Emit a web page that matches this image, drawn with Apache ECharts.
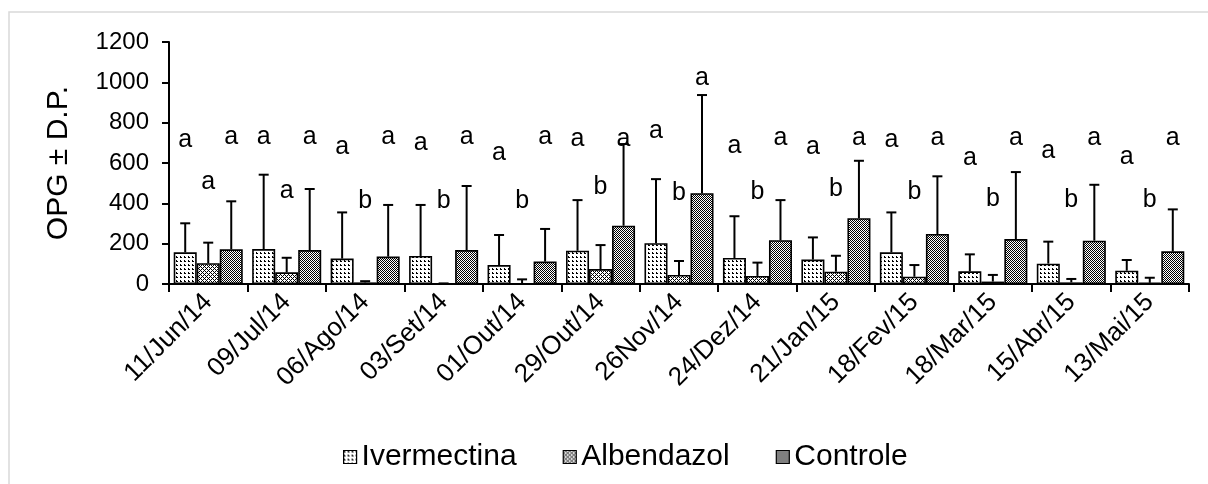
<!DOCTYPE html>
<html>
<head>
<meta charset="utf-8">
<script src="https://cdn.jsdelivr.net/npm/echarts@6/dist/echarts.min.js"></script>
<style>
  html, body { margin: 0; padding: 0; background: #fff; }
  #chart { width: 1208px; height: 484px; }
</style>
</head>
<body>
<div id="chart"></div>
<script>
// Sampling dates
const categories = ['11/Jun/14', '09/Jul/14', '06/Ago/14', '03/Set/14', '01/Out/14', '29/Out/14',
  '26Nov/14', '24/Dez/14', '21/Jan/15', '18/Fev/15', '18/Mar/15', '15/Abr/15', '13/Mai/15'];

// Mean OPG per group
const ivermectinaMean = [157, 173, 126, 139, 94, 165, 202, 129, 121, 157, 63, 101, 66];
const albendazolMean  = [103, 58, 8, 2, 3, 74, 45, 40, 61, 36, 12, 8, 6];
const controleMean    = [172, 168, 136, 168, 111, 289, 450, 217, 326, 248, 223, 215, 162];

// Standard deviation per group
const ivermectinaSD = [144, 369, 229, 253, 149, 251, 318, 207, 110, 198, 84, 109, 53];
const albendazolSD  = [102, 72, 6, 1, 20, 119, 69, 66, 79, 58, 33, 17, 25];
const controleSD    = [238, 303, 256, 318, 162, 405, 487, 199, 285, 286, 332, 277, 208];

// Significance letters and the OPG level at which each is written
const ivermectinaLetters = ['a', 'a', 'a', 'a', 'a', 'a', 'a', 'a', 'a', 'a', 'a', 'a', 'a'];
const albendazolLetters  = ['a', 'a', 'b', 'b', 'b', 'b', 'b', 'b', 'b', 'b', 'b', 'b', 'b'];
const controleLetters    = ['a', 'a', 'a', 'a', 'a', 'a', 'a', 'a', 'a', 'a', 'a', 'a', 'a'];
const ivermectinaLetterLevel = [715, 730, 680, 700, 650, 720, 760, 685, 680, 715, 625, 660, 630];
const albendazolLetterLevel  = [505, 460, 410, 410, 410, 480, 450, 455, 470, 455, 420, 415, 415];
const controleLetterLevel    = [730, 730, 730, 730, 730, 720, 1020, 725, 725, 725, 725, 725, 725];

const yTicks = { min: 0, max: 1200, interval: 200 };
const seriesNames = ['Ivermectina', 'Albendazol', 'Controle'];

const FONT = '"Liberation Sans", Arial, sans-serif';
const CAT_GAP = 0.12;

// Black-and-white fill patterns
function makePattern(size, isBlack) {
  const c = document.createElement('canvas');
  c.width = size; c.height = size;
  const ctx = c.getContext('2d');
  ctx.fillStyle = '#fff';
  ctx.fillRect(0, 0, size, size);
  ctx.fillStyle = '#000';
  for (let y = 0; y < size; y++) {
    for (let x = 0; x < size; x++) {
      if (isBlack(x, y)) ctx.fillRect(x, y, 1, 1);
    }
  }
  return { image: c, repeat: 'repeat' };
}
const patterns = [
  makePattern(4, (x, y) => (x % 4 < 2) && (y % 4 < 2) && !(x === 1 && y === 0)),
  makePattern(4, (x, y) => (x + y) % 2 === 0 && !(x === 0 && y === 0) && !(x === 2 && y === 2)),
  makePattern(2, (x, y) => (x + y) % 2 === 0)
];

const means = [ivermectinaMean, albendazolMean, controleMean];
const sds = [ivermectinaSD, albendazolSD, controleSD];
const letters = [ivermectinaLetters, albendazolLetters, controleLetters];
const letterLevels = [ivermectinaLetterLevel, albendazolLetterLevel, controleLetterLevel];

function barOffset(api, idx) {
  const band = api.size([1, 0])[0];
  const bw = band * (1 - CAT_GAP) / 3;
  return (idx - 1) * bw;
}

const series = [];
seriesNames.forEach((name, idx) => {
  series.push({
    name: name,
    type: 'bar',
    data: means[idx],
    barGap: '0%',
    barCategoryGap: (CAT_GAP * 100) + '%',
    itemStyle: { color: patterns[idx], borderColor: '#000', borderWidth: 1.6 },
    z: 2
  });
});

// Upward error bars (mean + SD)
seriesNames.forEach((name, idx) => {
  series.push({
    type: 'custom',
    silent: true,
    z: 3,
    encode: { x: 0, y: 1 },
    data: means[idx].map((m, i) => [i, m, sds[idx][i]]),
    renderItem: function (params, api) {
      const i = api.value(0), m = api.value(1), s = api.value(2);
      const base = api.coord([i, m]);
      const top = api.coord([i, m + s]);
      const cx = base[0] + barOffset(api, idx);
      const st = { stroke: '#000', lineWidth: 2 };
      return {
        type: 'group',
        children: [
          { type: 'line', shape: { x1: cx, y1: base[1], x2: cx, y2: top[1] }, style: st },
          { type: 'line', shape: { x1: cx - 5, y1: top[1], x2: cx + 5, y2: top[1] }, style: st }
        ]
      };
    }
  });
});

// Significance letters
seriesNames.forEach((name, idx) => {
  series.push({
    type: 'custom',
    silent: true,
    z: 4,
    encode: { x: 0, y: 1 },
    data: letterLevels[idx].map((v, i) => [i, v]),
    renderItem: function (params, api) {
      const i = api.value(0), v = api.value(1);
      const p = api.coord([i, v]);
      return {
        type: 'text',
        style: {
          text: letters[idx][params.dataIndex],
          x: p[0] + barOffset(api, idx),
          y: p[1],
          fill: '#000',
          font: '25px ' + FONT,
          align: 'center',
          verticalAlign: 'middle'
        }
      };
    }
  });
});

const chart = echarts.init(document.getElementById('chart'), null, { renderer: 'canvas' });
chart.setOption({
  animation: false,
  backgroundColor: '#fff',
  textStyle: { fontFamily: FONT, color: '#000' },
  graphic: [{
    type: 'rect',
    shape: { x: 9, y: 12, width: 1300, height: 600 },
    style: { fill: 'none', stroke: '#d9d9d9', lineWidth: 1.5 },
    silent: true,
    z: -10
  }],
  grid: { left: 169, right: 19, top: 42, bottom: 200 },
  legend: {
    data: seriesNames,
    left: 338,
    top: 437,
    itemWidth: 13,
    itemHeight: 13,
    itemGap: 46,
    icon: 'rect',
    itemStyle: { borderColor: '#000', borderWidth: 1.2 },
    textStyle: { fontSize: 30, fontFamily: FONT, color: '#000' }
  },
  xAxis: {
    type: 'category',
    data: categories,
    boundaryGap: true,
    axisLine: { lineStyle: { color: '#000', width: 2 } },
    axisTick: { show: true, interval: 0, length: 8, lineStyle: { color: '#000', width: 2 } },
    axisLabel: { interval: 0, rotate: 45, margin: 14, fontSize: 26, fontFamily: FONT, color: '#000' },
    splitLine: { show: false }
  },
  yAxis: {
    type: 'value',
    min: yTicks.min,
    max: yTicks.max,
    interval: yTicks.interval,
    name: 'OPG ± D.P.',
    nameLocation: 'middle',
    nameGap: 95,
    nameTextStyle: { fontSize: 30, fontFamily: FONT, color: '#000' },
    axisLine: { show: true, lineStyle: { color: '#000', width: 2 } },
    axisTick: { show: true, length: 7, lineStyle: { color: '#000', width: 2 } },
    axisLabel: { margin: 20, fontSize: 24, fontFamily: FONT, color: '#000', formatter: v => String(v) },
    splitLine: { show: false }
  },
  series: series
});
</script>
</body>
</html>
